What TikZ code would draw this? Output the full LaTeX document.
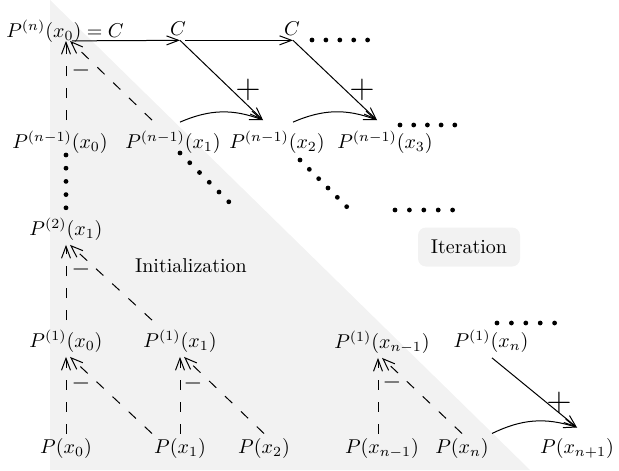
\documentclass[tikz,border=0pt]{standalone}
\usetikzlibrary{arrows.meta}

\begin{document}
\begin{tikzpicture}[x=0.5pt,y=-0.5pt,line width=0.5pt,>={Straight Barb[length=6pt,width=4.5pt]}]
  \tikzset{
    pt/.style={inner sep=2pt},
    dsh/.style={->,dash pattern=on 5pt off 6pt},
    dotrow/.style={line width=2.4pt,line cap=round,dash pattern=on 0pt off #1},
    minus/.style={inner sep=0pt,font=\large},
    plus/.style={inner sep=0pt,font=\LARGE},
  }
  \useasboundingbox (0,0) rectangle (619,470);
  % zona de inicializacion
  \fill[gray!10] (50,0) -- (50,470) -- (530,470) -- cycle;
  % fila superior
  \node[pt] (top) at (65,31) {$P^{(n)}(x_0)=C$};
  \node[pt] (ca) at (178,29) {$C$};
  \node[pt] (cb) at (292,29) {$C$};
  % fila n-1
  \node[pt] (m0) at (60,142) {$P^{(n-1)}(x_0)$};
  \node[pt] (m1) at (173,142) {$P^{(n-1)}(x_1)$};
  \node[pt] (m2) at (277,142) {$P^{(n-1)}(x_2)$};
  \node[pt] (m3) at (385,142) {$P^{(n-1)}(x_3)$};
  \node[pt] (s1) at (66,229) {$P^{(2)}(x_1)$};
  % fila 1
  \node[pt] (f0) at (66,341) {$P^{(1)}(x_0)$};
  \node[pt] (f1) at (180,341) {$P^{(1)}(x_1)$};
  \node[pt] (fa) at (382,342) {$P^{(1)}(x_{n-1})$};
  \node[pt] (fb) at (491,341) {$P^{(1)}(x_n)$};
  % fila inferior
  \node[pt] (b0) at (66,448) {$P(x_0)$};
  \node[pt] (b1) at (180,448) {$P(x_1)$};
  \node[pt] (b2) at (264,448) {$P(x_2)$};
  \node[pt] (ba) at (382,448) {$P(x_{n-1})$};
  \node[pt] (bb) at (462,448) {$P(x_n)$};
  \node[pt] (bc) at (577,448) {$P(x_{n+1})$};
  % etiquetas
  \node (init) at (191,266) {Initialization};
  \node[fill=gray!10,rounded corners=4pt,minimum width=51pt,minimum height=19.5pt] (iter) at (469,247) {Iteration};
  % iteracion: flechas continuas
  \draw[->] ([shift={(3.5pt,3pt)}]top.south) -- ([xshift=1pt]ca.south);
  \draw[->] ([xshift=3.5pt]ca.south) -- ([xshift=0.5pt]cb.south);
  \draw[->] ([xshift=1pt]ca.south) -- ([shift={(-7pt,3pt)}]m2.north);
  \draw[->] ([xshift=0.5pt]cb.south) -- ([shift={(-4pt,3pt)}]m3.north);
  \draw[->] ([shift={(3.5pt,2pt)}]m1.north) to[bend left=22] ([shift={(-7pt,3pt)}]m2.north);
  \draw[->] ([shift={(8pt,2pt)}]m2.north) to[bend left=22] ([shift={(-4pt,3pt)}]m3.north);
  \draw[->] ([shift={(0.5pt,-0.5pt)}]fb.south) -- ([yshift=3pt]bc.north);
  \draw[->] ([xshift=15pt]bb.north) to[bend left=22] ([yshift=3pt]bc.north);
  \node[plus] (pa) at (248,90) {$+$};
  \node[plus] (pb) at (362,90) {$+$};
  \node[plus] (pc) at (559,403) {$+$};
  % inicializacion: flechas discontinuas
  \draw[dsh] ([shift={(3pt,3pt)}]m0.north) -- ([shift={(0.5pt,3pt)}]top.south);
  \draw[dsh] ([shift={(-10.5pt,3pt)}]m1.north) -- ([shift={(2.5pt,3pt)}]top.south);
  \draw[dsh] ([yshift=2.5pt]f0.north) -- (s1.south);
  \draw[dsh] ([shift={(-14pt,2.5pt)}]f1.north) -- ([xshift=2pt]s1.south);
  \draw[dsh] (b0.north) -- (f0.south);
  \draw[dsh] ([xshift=-14pt]b1.north) -- ([xshift=2pt]f0.south);
  \draw[dsh] (b1.north) -- (f1.south);
  \draw[dsh] (b2.north) -- ([xshift=2pt]f1.south);
  \draw[dsh] ([xshift=-2pt]ba.north) -- ([xshift=-2pt]fa.south);
  \draw[dsh] (bb.north) -- (fa.south);
  \node[minus] (ma) at (81,71) {$-$};
  \node[minus] (mb) at (81,269) {$-$};
  \node[minus] (mc) at (81,383) {$-$};
  \node[minus] (md) at (193,383) {$-$};
  \node[minus] (me) at (392,382) {$-$};
  % puntos suspensivos
  \draw[dotrow=6.95pt] (312,40) -- (368,40);
  \draw[dotrow=6.85pt] (400,125) -- (455,125);
  \draw[dotrow=6.6pt] (66,155) -- (66,208);
  \draw[dotrow=6.9pt] (180,153) -- (229,202);
  \draw[dotrow=6.6pt] (300,160) -- (347,207);
  \draw[dotrow=7.2pt] (395,210) -- (453,210);
  \draw[dotrow=7.2pt] (497,323) -- (555,323);
\end{tikzpicture}
\end{document}
